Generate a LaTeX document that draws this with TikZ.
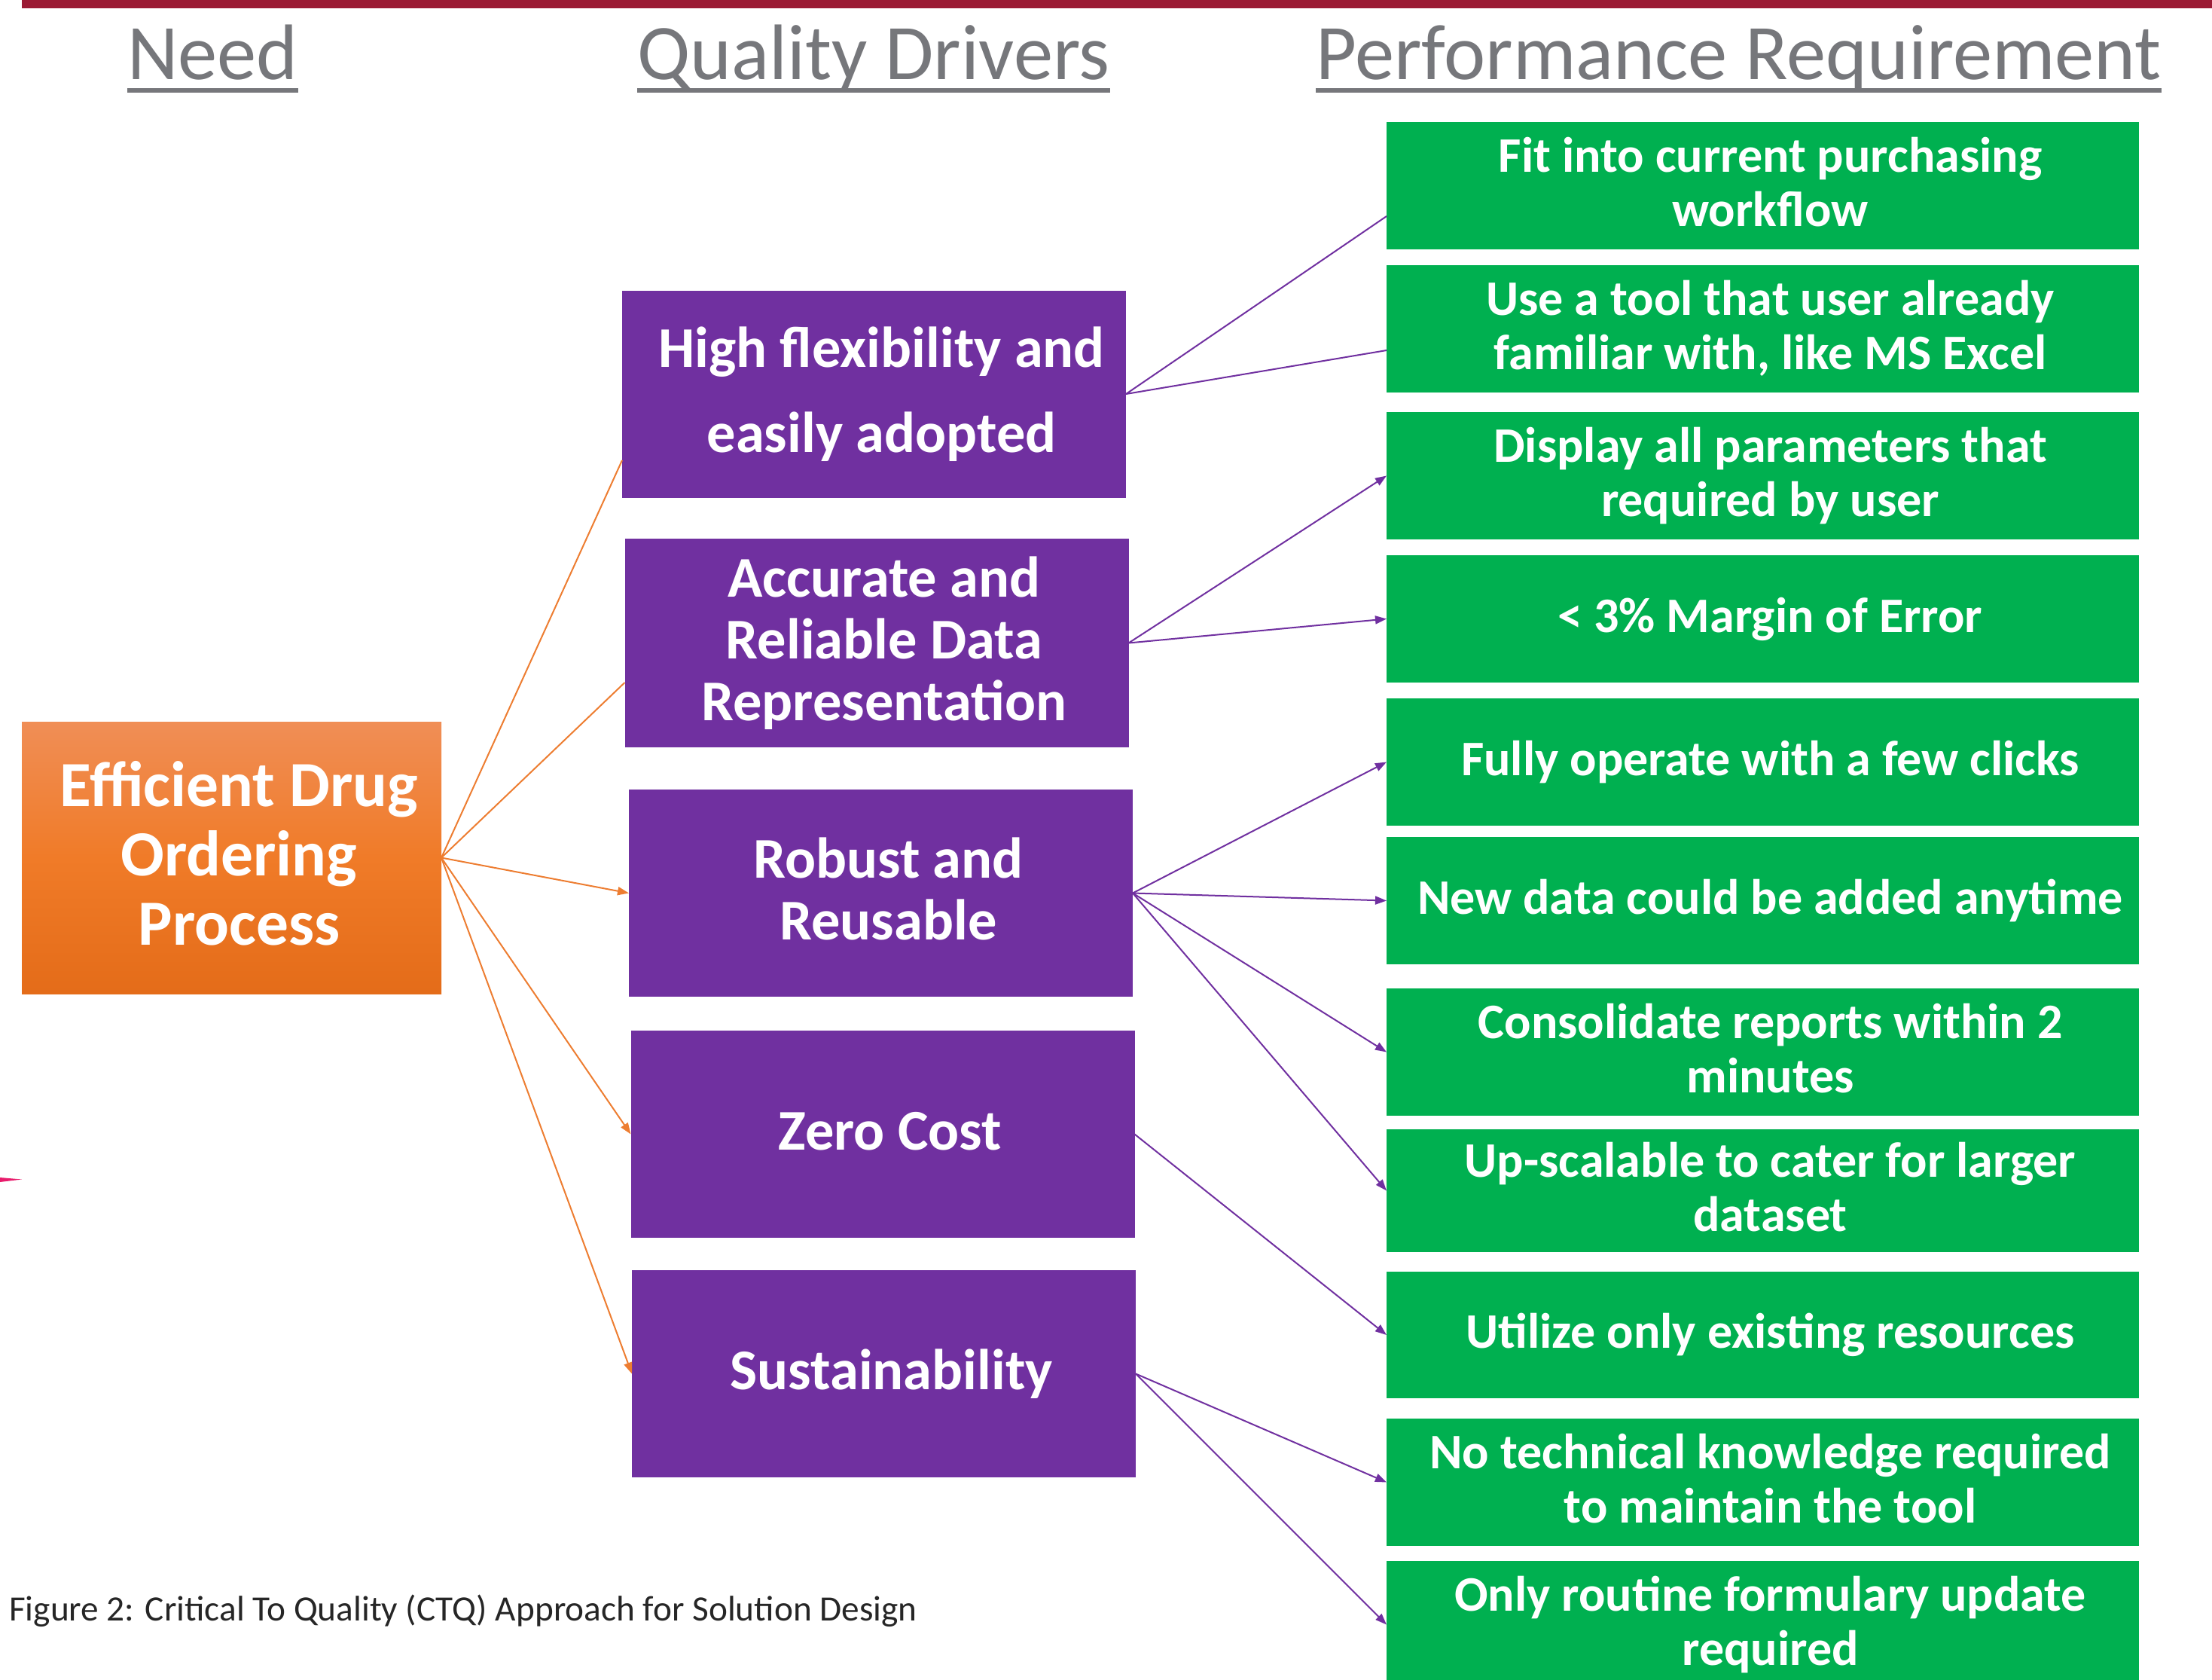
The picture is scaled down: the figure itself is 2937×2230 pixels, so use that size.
\documentclass[tikz,border=0pt]{standalone}
\usepackage{fontspec}
\setmainfont{Carlito}
\usetikzlibrary{arrows.meta}

\definecolor{ctqbar}{RGB}{155,26,52}
\definecolor{headgray}{RGB}{118,119,123}
\definecolor{ctqpurple}{RGB}{112,48,160}
\definecolor{ctqgreen}{RGB}{0,176,80}
\definecolor{ctqorange}{RGB}{237,125,49}
\definecolor{orangetop}{RGB}{240,142,86}
\definecolor{orangemid}{RGB}{240,123,40}
\definecolor{orangebot}{RGB}{228,108,25}
\definecolor{captiongray}{RGB}{38,38,38}
\definecolor{pinkmark}{RGB}{232,28,108}

% one line of box text: cap-height strut, glyphs smashed, so every
% line block is centred on cap top of first line .. baseline of last
\newcommand\capln[1]{\rule{0pt}{0.632em}\smash{#1}}

\begin{document}
\begin{tikzpicture}[x=1pt,y=-1pt,
  box/.style={rectangle, inner sep=0pt, outer sep=0pt},
  needbox/.style={box, minimum width=557pt, minimum height=361pt,
    top color=orangetop, bottom color=orangebot, middle color=orangemid},
  pbox/.style={box, fill=ctqpurple, minimum width=669pt, minimum height=275pt},
  gbox/.style={box, fill=ctqgreen, minimum width=999pt, minimum height=169pt},
  boxtext/.style={inner sep=0pt, align=center, text=white},
  ntext/.style={boxtext, font=\bfseries\fontsize{85.5}{92}\selectfont},
  ptext/.style={boxtext, font=\bfseries\fontsize{76.5}{82}\selectfont},
  gtext/.style={boxtext, font=\bfseries\fontsize{66}{72}\selectfont},
  heading/.style={inner sep=0pt, anchor=base, text=headgray,
    font=\fontsize{104.5}{120}\selectfont},
  underbar/.style={draw=headgray, line width=6pt},
  olink/.style={draw=ctqorange, line width=2pt},
  plink/.style={draw=ctqpurple, line width=2pt},
  headed/.style={-{Triangle[length=15pt,width=11pt]}},
  txtshift/.style={shift={(10pt,3pt)}}
]
\useasboundingbox (0,0) rectangle (2937,2230);
\clip (0,0) rectangle (2937,2230);

% top rule and stray mark on the left margin
\fill[ctqbar] (29,0) rectangle (2937,11);
\fill[pinkmark] (0,1563) -- (29,1565.5) -- (0,1569) -- cycle;

% column headings
\node[heading] (hneed) at (282.5,105) {Need};
\node[heading] (hdrv)  at (1160,105) {Quality Drivers};
\node[heading] (hperf) at (2308.5,105) {Performance Requirement};
\foreach \h in {hneed,hdrv,hperf}
  \draw[underbar] ([yshift=-15pt]\h.base west) -- ([yshift=-15pt]\h.base east);

% need
\node[needbox] (need) at (307.5,1138.5) {};
\node[ntext] (needt) at ([txtshift]need.center)
  {\capln{Efficient Drug}\\\capln{Ordering}\\\capln{Process}};

% quality drivers
\node[pbox] (p1) at (1160.5,523) {};
\node[pbox, minimum height=277pt] (p2) at (1164,853.5) {};
\node[pbox] (p3) at (1169.5,1185.5) {};
\node[pbox] (p4) at (1172,1505.5) {};
\node[pbox] (p5) at (1173.5,1823.5) {};

\node[ptext, font=\bfseries\fontsize{76.5}{113}\selectfont] (p1t) at ([txtshift]p1.center)
  {\capln{High flexibility and}\\\capln{easily adopted}};
\node[ptext] (p2t) at ([txtshift]p2.center)
  {\capln{Accurate and}\\\capln{Reliable Data}\\\capln{Representation}};
\node[ptext] (p3t) at ([txtshift]p3.center)
  {\capln{Robust and}\\\capln{Reusable}};
\node[ptext] (p4t) at ([txtshift]p4.center) {\capln{Zero Cost}};
\node[ptext] (p5t) at ([txtshift]p5.center) {\capln{Sustainability}};

% performance requirements
\node[gbox] (g1)  at (2340.5,246.5) {};
\node[gbox] (g2)  at (2340.5,436.5) {};
\node[gbox] (g3)  at (2340.5,631.5) {};
\node[gbox] (g4)  at (2340.5,821.5) {};
\node[gbox] (g5)  at (2340.5,1011.5) {};
\node[gbox] (g6)  at (2340.5,1195.5) {};
\node[gbox] (g7)  at (2340.5,1396.5) {};
\node[gbox, minimum height=163pt] (g8) at (2340.5,1580.5) {};
\node[gbox, minimum height=168pt] (g9) at (2340.5,1772) {};
\node[gbox] (g10) at (2340.5,1967.5) {};
\node[gbox] (g11) at (2340.5,2156.5) {};

\node[gtext] (g1t) at ([txtshift]g1.center)
  {\capln{Fit into current purchasing}\\\capln{workflow}};
\node[gtext] (g2t) at ([txtshift]g2.center)
  {\capln{Use a tool that user already}\\\capln{familiar with, like MS Excel}};
\node[gtext] (g3t) at ([txtshift]g3.center)
  {\capln{Display all parameters that}\\\capln{required by user}};
\node[gtext] (g4t) at ([txtshift]g4.center) {\capln{\textless{} 3\% Margin of Error}};
\node[gtext] (g5t) at ([txtshift]g5.center) {\capln{Fully operate with a few clicks}};
\node[gtext] (g6t) at ([txtshift]g6.center) {\capln{New data could be added anytime}};
\node[gtext] (g7t) at ([txtshift]g7.center)
  {\capln{Consolidate reports within 2}\\\capln{minutes}};
\node[gtext] (g8t) at ([txtshift]g8.center)
  {\capln{Up-scalable to cater for larger}\\\capln{dataset}};
\node[gtext] (g9t) at ([txtshift]g9.center) {\capln{Utilize only existing resources}};
\node[gtext] (g10t) at ([txtshift]g10.center)
  {\capln{No technical knowledge required}\\\capln{to maintain the tool}};
\node[gtext] (g11t) at ([txtshift]g11.center)
  {\capln{Only routine formulary update}\\\capln{required}};

% need -> drivers
\draw[olink] (need.east) -- ([yshift=-88pt]p1.west);
\draw[olink] (need.east) -- ([yshift=-52.5pt]p2.west);
\draw[olink, headed] (need.east) -- (p3.west);
\draw[olink, headed] (need.east) -- (p4.west);
\draw[olink, headed] (need.east) -- (p5.west);

% drivers -> requirements
\draw[plink] (p1.east) -- ([yshift=-40.5pt]g1.west);
\draw[plink] (p1.east) -- ([yshift=-28.5pt]g2.west);
\draw[plink, headed] (p2.east) -- (g3.west);
\draw[plink, headed] (p2.east) -- (g4.west);
\draw[plink, headed] (p3.east) -- (g5.west);
\draw[plink, headed] (p3.east) -- (g6.west);
\draw[plink, headed] (p3.east) -- (g7.west);
\draw[plink, headed] (p3.east) -- (g8.west);
\draw[plink, headed] (p4.east) -- (g9.west);
\draw[plink, headed] (p5.east) -- (g10.west);
\draw[plink, headed] (p5.east) -- (g11.west);

% caption
\node[inner sep=0pt, anchor=base west, text=captiongray,
      font=\fontsize{47.3}{55}\selectfont] (caption) at (12,2151)
  {Figure 2: Critical To Quality (CTQ) Approach for Solution Design};
\end{tikzpicture}
\end{document}
